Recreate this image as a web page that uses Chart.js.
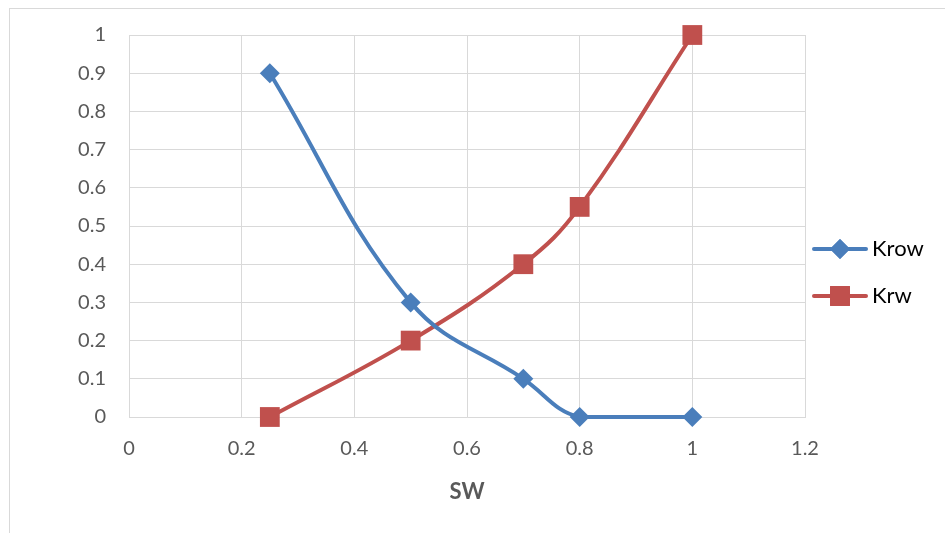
<!DOCTYPE html>
<html>
<head>
<meta charset="utf-8">
<script src="https://cdn.jsdelivr.net/npm/chart.js@4"></script>
<style>
  html, body { margin: 0; padding: 0; background: #fff; overflow: hidden; }
  #wrap { position: relative; width: 945px; height: 533px; }
  #frame { position: absolute; left: 9px; top: 8px; width: 1000px; height: 600px; border: 1px solid #d9d9d9; pointer-events: none; }
  canvas { position: absolute; left: 0; top: 0; }
</style>
</head>
<body>
<div id="wrap">
  <canvas id="relpermChart" width="945" height="533"></canvas>
  <div id="frame"></div>
</div>
<script>
// ========== Relative permeability vs SW ==========
var swValues   = [0.25, 0.5, 0.7, 0.8, 1];
var krowValues = [0.9, 0.3, 0.1, 0, 0];
var krwValues  = [0, 0.2, 0.4, 0.55, 1];
var xTicks = [0, 0.2, 0.4, 0.6, 0.8, 1, 1.2];
var yTicks = [0, 0.1, 0.2, 0.3, 0.4, 0.5, 0.6, 0.7, 0.8, 0.9, 1];

var seriesNames = ['Krow', 'Krw'];
var blue = '#4a7ebb', red = '#c0504d';
var fontFam = 'Lato, "Open Sans", sans-serif';

function toPoints(xs, ys) {
    return xs.map(function(x, i) { return { x: x, y: ys[i] }; });
}

// legend drawn as line + marker like the spreadsheet one
var sideLegend = {
    id: 'sideLegend',
    afterDraw: function(chart) {
        var ctx = chart.ctx;
        var rows = [
            { name: seriesNames[0], color: blue, style: 'rectRot', r: 10, y: 249 },
            { name: seriesNames[1], color: red, style: 'rect', r: 14, y: 296 }
        ];
        ctx.save();
        rows.forEach(function(row) {
            ctx.strokeStyle = row.color;
            ctx.lineWidth = 4;
            ctx.lineCap = 'round';
            ctx.beginPath();
            ctx.moveTo(814, row.y);
            ctx.lineTo(866, row.y);
            ctx.stroke();
            ctx.fillStyle = row.color;
            Chart.helpers.drawPoint(ctx, { pointStyle: row.style, radius: row.r, borderWidth: 0, rotation: 0 }, 840, row.y);
            ctx.fill();
            ctx.fillStyle = '#000';
            ctx.font = '22px ' + fontFam;
            ctx.textBaseline = 'middle';
            ctx.textAlign = 'left';
            ctx.fillText(row.name, 872, row.y);
        });
        ctx.restore();
    }
};

var chart = new Chart(document.getElementById('relpermChart').getContext('2d'), {
    type: 'scatter',
    data: {
        datasets: [{
            label: seriesNames[0],
            data: toPoints(swValues, krowValues),
            showLine: true,
            clip: false,
            borderColor: blue,
            backgroundColor: blue,
            borderWidth: 4,
            tension: 0.4,
            pointStyle: 'rectRot',
            pointRadius: 10,
            pointHoverRadius: 10,
            pointBorderWidth: 0
        }, {
            label: seriesNames[1],
            data: toPoints(swValues, krwValues),
            showLine: true,
            clip: false,
            borderColor: red,
            backgroundColor: red,
            borderWidth: 4,
            tension: 0.4,
            pointStyle: 'rect',
            pointRadius: 14,
            pointHoverRadius: 14,
            pointBorderWidth: 0
        }]
    },
    options: {
        responsive: false,
        animation: false,
        layout: { padding: { left: 0, right: 140, top: 34, bottom: 0 } },
        plugins: {
            legend: { display: false },
            tooltip: { enabled: false }
        },
        scales: {
            x: {
                type: 'linear',
                min: 0, max: 1.2,
                afterBuildTicks: function(s) { s.ticks = xTicks.map(function(v) { return { value: v }; }); },
                afterFit: function(s) { s.height = 533 - 417; },
                grid: { color: '#d9d9d9', lineWidth: 1, drawTicks: false },
                border: { color: '#d9d9d9', width: 1 },
                ticks: { color: '#595959', font: { family: fontFam, size: 20 }, padding: 20, maxRotation: 0,
                         callback: function(v) { return String(v); } },
                title: { display: true, text: 'SW', color: '#595959', font: { family: fontFam, size: 22, weight: 'bold' }, padding: { top: 0, bottom: 28 } }
            },
            y: {
                type: 'linear',
                min: 0, max: 1,
                afterBuildTicks: function(s) { s.ticks = yTicks.map(function(v) { return { value: v }; }); },
                afterFit: function(s) { s.width = 129; },
                grid: { color: '#d9d9d9', lineWidth: 1, drawTicks: false },
                border: { color: '#d9d9d9', width: 1 },
                ticks: { color: '#595959', font: { family: fontFam, size: 20 }, padding: 23,
                         callback: function(v) { return String(v); } }
            }
        }
    },
    plugins: [sideLegend]
});
</script>
</body>
</html>
